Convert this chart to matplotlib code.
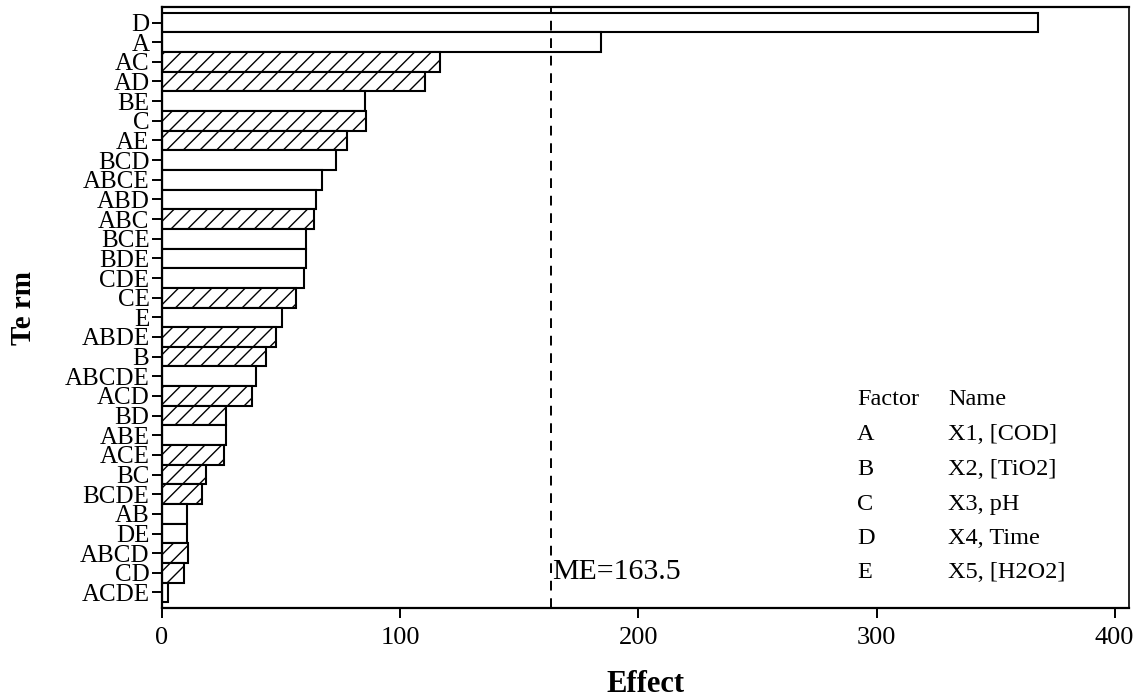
import matplotlib
matplotlib.use("Agg")
import matplotlib.pyplot as plt

plt.rcParams["font.family"] = ["Liberation Serif", "DejaVu Serif"]
plt.rcParams["hatch.linewidth"] = 1.0

# Terms listed top to bottom, absolute effect, hatched = negative effect
terms = ["D", "A", "AC", "AD", "BE", "C", "AE", "BCD", "ABCE", "ABD", "ABC",
         "BCE", "BDE", "CDE", "CE", "E", "ABDE", "B", "ABCDE", "ACD", "BD",
         "ABE", "ACE", "BC", "BCDE", "AB", "DE", "ABCD", "CD", "ACDE"]
effects = [368.0, 184.3, 116.6, 110.5, 85.4, 85.5, 77.8, 72.9, 67.1, 64.6,
           63.7, 60.4, 60.4, 59.5, 56.2, 50.2, 47.8, 43.6, 39.3, 37.7, 26.7,
           26.7, 26.0, 18.4, 16.8, 10.6, 10.6, 10.9, 9.2, 2.4]
negative = [False, False, True, True, False, True, True, False, False, False,
            True, False, False, False, True, False, True, True, False, True,
            True, False, True, True, True, False, False, True, True, False]

me_value = 163.5
factors = ["A", "B", "C", "D", "E"]
names = ["X1, [COD]", "X2, [TiO2]", "X3, pH", "X4, Time", "X5, [H2O2]"]

fig = plt.figure(figsize=(11.39, 7.0), dpi=100)
ax = fig.add_axes([0.1422, 0.1314, 0.8490, 0.8586])

n = len(terms)
ypos = list(range(n - 1, -1, -1))
for y, val, neg in zip(ypos, effects, negative):
    ax.barh(y, val, height=1.0, color="white", edgecolor="black",
            linewidth=1.5, hatch="//" if neg else None, align="center")

ax.axvline(me_value, color="black", linestyle=(0, (5, 4)), linewidth=1.4)
ax.text(me_value + 0.5, 0.048, "ME=163.5", transform=ax.get_xaxis_transform(),
        fontsize=21.5, va="baseline", ha="left")

ax.set_xlim(0, 406)
ax.set_ylim(-0.79, n - 1 + 0.79)
ax.set_yticks(ypos)
ax.set_yticklabels(terms, fontsize=18)
ax.set_xticks([0, 100, 200, 300, 400])
ax.tick_params(axis="x", labelsize=19, length=7, width=1.4, direction="out", pad=7)
ax.tick_params(axis="y", length=7, width=1.4, direction="out", pad=2)
for side in ["left", "bottom", "top"]:
    ax.spines[side].set_linewidth(1.6)
ax.spines["right"].set_linewidth(1.2)

ax.set_xlabel("Effect", fontsize=22, fontweight="bold", labelpad=15)
ax.set_ylabel("Te rm", fontsize=21, fontweight="bold", labelpad=20)

# factor table
rows_y = [0.3378, 0.2795, 0.2213, 0.1631, 0.1065, 0.0499]
ax.text(0.7187, rows_y[0], "Factor", transform=ax.transAxes, fontsize=17.5, va="baseline")
ax.text(0.8128, rows_y[0], "Name", transform=ax.transAxes, fontsize=17.5, va="baseline")
for f, nm, yy in zip(factors, names, rows_y[1:]):
    ax.text(0.7187, yy, f, transform=ax.transAxes, fontsize=17.5, va="baseline")
    ax.text(0.8128, yy, nm, transform=ax.transAxes, fontsize=17.5, va="baseline")

fig.savefig("out.png", dpi=100)
